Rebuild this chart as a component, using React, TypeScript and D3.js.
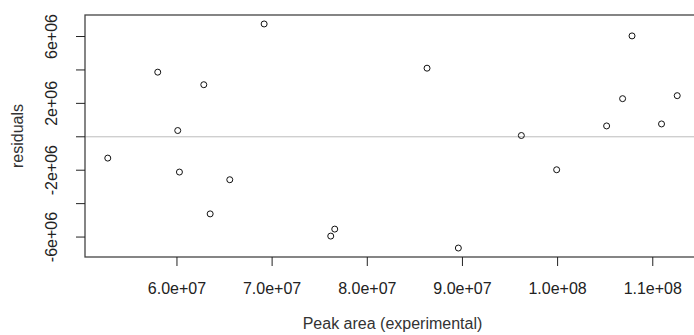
import React from "react";
import * as d3 from "d3";

const peakArea: number[] = [
  5.273e7, 5.798e7, 6.282e7, 6.008e7, 6.026e7, 6.555e7, 6.349e7, 6.916e7, 7.658e7, 7.616e7,
  8.628e7, 9.619e7, 9.99e7, 8.957e7, 1.0782e8, 1.0683e8, 1.0515e8, 1.1092e8, 1.1257e8,
];
const residuals: number[] = [
  -1.275e6, 3.868e6, 3.117e6, 0.375e6, -2.11e6, -2.569e6, -4.613e6, 6.752e6, -5.524e6, -5.942e6,
  4.106e6, 0.077e6, -1.973e6, -6.657e6, 6.037e6, 2.282e6, 0.65e6, 0.769e6, 2.461e6,
];
const xTicks: number[] = [6e7, 7e7, 8e7, 9e7, 1e8, 1.1e8];
const xTickLabels: string[] = ["6.0e+07", "7.0e+07", "8.0e+07", "9.0e+07", "1.0e+08", "1.1e+08"];
const yTicks: number[] = [-6e6, -4e6, -2e6, 0, 2e6, 4e6, 6e6];
const yLabelTicks: number[] = [-6e6, -2e6, 2e6, 6e6];
const yTickLabels: string[] = ["-6e+06", "-2e+06", "2e+06", "6e+06"];

const W = 694;
const H = 335;
const left = 85;
const right = 700;
const top = 15;
const bottom = 257;

export default function App() {
  const xExt = d3.extent(peakArea) as [number, number];
  const yExt = d3.extent(residuals) as [number, number];
  const xPad = (xExt[1] - xExt[0]) * 0.04;
  const yPad = (yExt[1] - yExt[0]) * 0.04;
  const x = d3.scaleLinear().domain([xExt[0] - xPad, xExt[1] + xPad]).range([left, right]);
  const y = d3.scaleLinear().domain([yExt[0] - yPad, yExt[1] + yPad]).range([bottom, top]);
  const font = "'Liberation Sans', Arial, sans-serif";
  return (
    <svg
      width={W}
      height={H}
      style={{ position: "absolute", left: 0, top: 0, background: "#fff" }}
      fontFamily={font}
    >
      <line x1={left} x2={W} y1={y(0)} y2={y(0)} stroke="#bdbdbd" strokeWidth={1} />
      <rect
        x={left}
        y={top}
        width={right - left}
        height={bottom - top}
        fill="none"
        stroke="#444"
        strokeWidth={1.3}
      />
      {xTicks.map((t, i) => (
        <g key={"x" + i}>
          <line x1={x(t)} x2={x(t)} y1={bottom} y2={bottom + 9} stroke="#222" strokeWidth={1} />
          <text x={x(t)} y={293.5} textAnchor="middle" fontSize={16} fill="#222">
            {xTickLabels[i]}
          </text>
        </g>
      ))}
      {yTicks.map((t, i) => (
        <line key={"y" + i} x1={left - 9} x2={left} y1={y(t)} y2={y(t)} stroke="#222" strokeWidth={1} />
      ))}
      {yLabelTicks.map((t, i) => (
        <text
          key={"yl" + i}
          transform={`translate(57,${y(t)}) rotate(-90)`}
          textAnchor="middle"
          fontSize={16}
          fill="#222"
        >
          {yTickLabels[i]}
        </text>
      ))}
      <text
        transform={`translate(23,${(top + bottom) / 2}) rotate(-90)`}
        textAnchor="middle"
        fontSize={16}
        fill="#333"
      >
        residuals
      </text>
      <text x={(left + right) / 2} y={328.5} textAnchor="middle" fontSize={16} fill="#333">
        Peak area (experimental)
      </text>
      {peakArea.map((v, i) => (
        <circle key={"p" + i} cx={x(v)} cy={y(residuals[i])} r={3} fill="none" stroke="#111" strokeWidth={1} />
      ))}
    </svg>
  );
}
